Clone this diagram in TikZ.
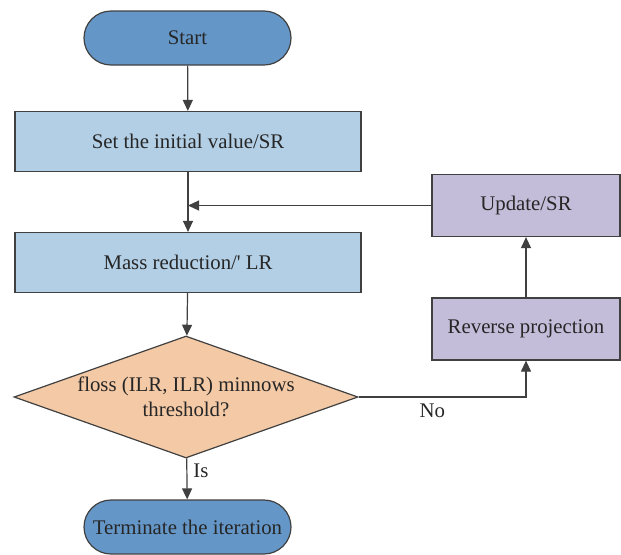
\documentclass[tikz,border=0pt]{standalone}
\usepackage{fontspec}
\setmainfont{Liberation Serif}
\usetikzlibrary{
  arrows.meta,
  shapes.geometric,
  shapes.misc,
  positioning,
  calc
}
\definecolor{fcTerm}{HTML}{6497C8}
\definecolor{fcStep}{HTML}{B3CFE5}
\definecolor{fcTest}{HTML}{F4C9A5}
\definecolor{fcBack}{HTML}{C3BDD9}
\definecolor{fcLine}{HTML}{404040}
\definecolor{fcText}{HTML}{262626}
\tikzset{
  fcnode/.style={
    draw=fcLine, line width=0.6pt, font=\fontsize{10.4}{12.5}\selectfont,
    text=fcText, align=center, inner sep=2pt
  },
  terminal/.style={fcnode, rounded rectangle, fill=fcTerm, minimum width=107.5pt, minimum height=27pt},
  stepbox/.style={fcnode, rectangle, fill=fcStep, minimum width=173pt, minimum height=30pt},
  backbox/.style={fcnode, rectangle, fill=fcBack, minimum width=94pt, minimum height=31pt},
  test/.style={fcnode, diamond, fill=fcTest, aspect=2.82, inner sep=0pt, minimum width=172pt, minimum height=61pt},
  flow/.style={-{Triangle[length=5.5pt,width=5pt]}, line width=0.6pt, fcLine},
  tag/.style={font=\fontsize{10.4}{12.5}\selectfont, text=fcText, inner sep=3pt}
}
\begin{document}
\begin{tikzpicture}[x=0.5pt, y=-0.5pt]
  \useasboundingbox (0,0) rectangle (621,554);
  % main column
  \node[terminal] (start) at (187.5,38) {Start};
  \node[stepbox] (init) at (188,141.5) {Set the initial value/SR};
  \node[stepbox] (mass) at (188,262.5) {Mass reduction/\textquotesingle{} LR};
  \node[test] (check) at (186,397) {floss (ILR, ILR) minnows\\threshold?};
  \node[terminal] (stop) at (187.5,527) {Terminate the iteration};
  % feedback column
  \node[backbox] (update) at (526,205.5) {Update/SR};
  \node[backbox] (reverse) at (526,329) {Reverse projection};
  \coordinate (join) at (init.south |- update.west);

  \draw[flow] (start) -- (init);
  \draw[flow] (init) -- (mass);
  \draw[flow] (mass) -- (check);
  \draw[flow] (check) -- node[tag, right, pos=0.3] {Is} (stop);
  \draw[flow] (check.east) -| node[tag, below, pos=0.22] {No} (reverse.south);
  \draw[flow] (reverse) -- (update);
  \draw[flow] (update.west) -- (join);
\end{tikzpicture}
\end{document}
